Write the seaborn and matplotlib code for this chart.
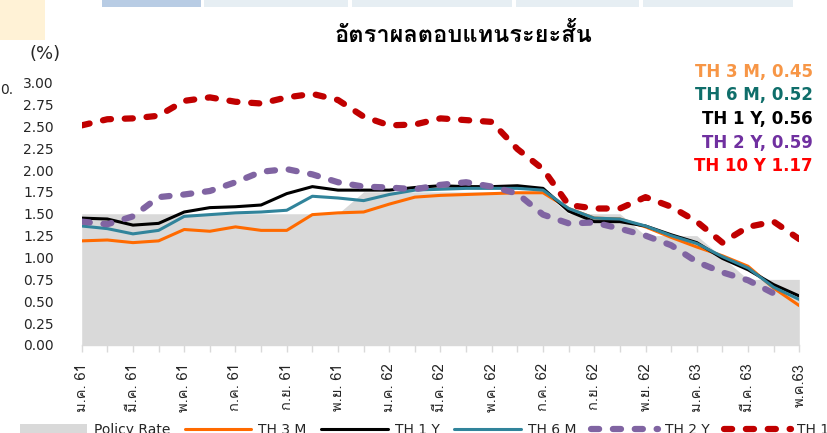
import matplotlib
matplotlib.use("Agg")
import matplotlib.pyplot as plt
import numpy as np
import pandas as pd
import seaborn as sns
from matplotlib import font_manager
from matplotlib.ft2font import FT2Font
from matplotlib.lines import Line2D
from matplotlib.patches import Patch, Rectangle

# monthly data, Jan 2018 (61) .. May 2020 (63)
months = [
    "ม.ค. 61", "ก.พ. 61", "มี.ค. 61", "เม.ย. 61", "พ.ค. 61", "มิ.ย. 61",
    "ก.ค. 61", "ส.ค. 61", "ก.ย. 61", "ต.ค. 61", "พ.ย. 61", "ธ.ค. 61",
    "ม.ค. 62", "ก.พ. 62", "มี.ค. 62", "เม.ย. 62", "พ.ค. 62", "มิ.ย. 62",
    "ก.ค. 62", "ส.ค. 62", "ก.ย. 62", "ต.ค. 62", "พ.ย. 62", "ธ.ค. 62",
    "ม.ค. 63", "ก.พ. 63", "มี.ค. 63", "เม.ย. 63", "พ.ค.63",
]
policy_rate = [1.50, 1.50, 1.50, 1.50, 1.50, 1.50, 1.50, 1.50, 1.50, 1.50, 1.50, 1.75,
               1.75, 1.75, 1.75, 1.75, 1.75, 1.75, 1.75, 1.50, 1.50, 1.50, 1.25, 1.25,
               1.25, 1.00, 0.75, 0.75, 0.75]
th_3m = [1.19, 1.20, 1.17, 1.19, 1.32, 1.30, 1.35, 1.31, 1.31, 1.49, 1.51, 1.52,
         1.61, 1.69, 1.71, 1.72, 1.73, 1.74, 1.74, 1.56, 1.45, 1.44, 1.35, 1.23,
         1.12, 1.02, 0.90, 0.65, 0.45]
th_6m = [1.36, 1.33, 1.27, 1.31, 1.47, 1.49, 1.51, 1.52, 1.54, 1.70, 1.68, 1.65,
         1.72, 1.77, 1.78, 1.79, 1.79, 1.79, 1.77, 1.56, 1.45, 1.44, 1.36, 1.25,
         1.16, 1.01, 0.88, 0.66, 0.52]
th_1y = [1.45, 1.44, 1.37, 1.39, 1.52, 1.57, 1.58, 1.60, 1.73, 1.81, 1.77, 1.77,
         1.77, 1.80, 1.82, 1.81, 1.81, 1.82, 1.79, 1.53, 1.41, 1.41, 1.36, 1.26,
         1.17, 0.99, 0.86, 0.69, 0.56]
th_2y = [1.41, 1.38, 1.47, 1.69, 1.72, 1.76, 1.86, 1.98, 2.01, 1.95, 1.86, 1.81,
         1.80, 1.78, 1.83, 1.86, 1.81, 1.73, 1.49, 1.39, 1.40, 1.33, 1.25, 1.14,
         0.95, 0.83, 0.74, 0.59, np.nan]
th_10y = [2.51, 2.58, 2.59, 2.62, 2.79, 2.83, 2.78, 2.76, 2.83, 2.87, 2.80, 2.61,
          2.51, 2.52, 2.59, 2.57, 2.55, 2.24, 2.01, 1.60, 1.56, 1.56, 1.69, 1.58,
          1.41, 1.17, 1.35, 1.41, 1.21]

latest_labels = ["TH 3 M, 0.45", "TH 6 M, 0.52", "TH 1 Y, 0.56", "TH 2 Y, 0.59", "TH 10 Y 1.17"]
latest_colors = ["#F79646", "#0F6E6A", "#000000", "#7030A0", "#FF0000"]

df = pd.DataFrame({"month": months, "policy": policy_rate, "th3m": th_3m, "th6m": th_6m,
                   "th1y": th_1y, "th2y": th_2y, "th10y": th_10y})
df["pos"] = np.arange(len(df))


def thai_font():
    # pick any installed family that has Thai glyphs
    for f in font_manager.fontManager.ttflist:
        try:
            if 0x0E01 in FT2Font(f.fname).get_charmap():
                return f.name
        except Exception:
            pass
    return "DejaVu Sans"


sns.set_style("white")
TH = thai_font()
plt.rcParams["font.family"] = ["DejaVu Sans", TH]
thai_fam = [TH, "DejaVu Sans"]

fig = plt.figure(figsize=(8.27, 4.33), dpi=100)
ax = fig.add_axes([81.7 / 827, 88 / 433, 717.6 / 827, 262.5 / 433])

dash = (0, (1.3, 2.2))
ax.fill_between(df["pos"], df["policy"], color="#D9D9D9", lw=0, zorder=1)
sns.lineplot(data=df, x="pos", y="th3m", ax=ax, color="#FF6A00", lw=2.2, zorder=3)
sns.lineplot(data=df, x="pos", y="th1y", ax=ax, color="#000000", lw=2.2, zorder=4)
sns.lineplot(data=df, x="pos", y="th6m", ax=ax, color="#31849B", lw=2.2, zorder=5)
sns.lineplot(data=df, x="pos", y="th2y", ax=ax, color="#8064A2", lw=4.5, zorder=6,
             linestyle=dash, dash_capstyle="round")
sns.lineplot(data=df, x="pos", y="th10y", ax=ax, color="#C00000", lw=4.5, zorder=7,
             linestyle=dash, dash_capstyle="round")

ax.set_xlim(0, len(df) - 1)
ax.set_ylim(0, 3.0)
yt = np.arange(0, 3.01, 0.25)
ax.set_yticks(yt)
ax.set_yticklabels([f"{v:.2f}" for v in yt], fontsize=10, color="#262626")
ax.tick_params(axis="y", length=0, pad=20)

ax.set_xticks(df["pos"][::2])
ax.set_xticks(df["pos"][1::2], minor=True)
ax.set_xticklabels(df["month"][::2], rotation=90, fontsize=10.5, family=thai_fam,
                   color="#262626", va="top", ha="center")
ax.tick_params(axis="x", which="both", length=5, width=1, color="#D9D9D9", pad=8, bottom=True)
ax.set_xlabel("")
ax.set_ylabel("")

for s in ["top", "right", "left"]:
    ax.spines[s].set_visible(False)
ax.spines["bottom"].set_color("#D9D9D9")
ax.spines["bottom"].set_linewidth(1)

fig.text(463 / 827, 1 - 35 / 433, "อัตราผลตอบแทนระยะสั้น", family=thai_fam,
         fontsize=17, fontweight="bold", ha="center", va="center", color="#000000")
fig.text(45 / 827, 1 - 54 / 433, "(%)", fontsize=13, ha="center", va="center", color="#262626")
fig.text(0, 1 - 90 / 433, "0.", fontsize=10, ha="left", va="center", color="#262626")

for k, (lab, col) in enumerate(zip(latest_labels, latest_colors)):
    fig.text(813 / 827, 1 - (71.5 + 23.7 * k) / 433, lab, fontsize=12, fontweight="bold",
             color=col, ha="right", va="center")

# bits of the surrounding slide
fig.patches.append(Rectangle((0, 1 - 40 / 433), 45 / 827, 40 / 433, transform=fig.transFigure,
                             facecolor="#FFF2D6", edgecolor="none"))
for x0, x1, c in [(102, 201, "#B8CCE4"), (204, 348, "#E6EEF3"), (352, 512, "#E6EEF3"),
                  (516, 639, "#E6EEF3"), (643, 793, "#E6EEF3")]:
    fig.patches.append(Rectangle((x0 / 827, 1 - 7 / 433), (x1 - x0) / 827, 7 / 433,
                                 transform=fig.transFigure, facecolor=c, edgecolor="none"))

handles = [
    Patch(facecolor="#D9D9D9", edgecolor="none"),
    Line2D([], [], color="#FF6A00", lw=2.2),
    Line2D([], [], color="#000000", lw=2.2),
    Line2D([], [], color="#31849B", lw=2.2),
    Line2D([], [], color="#8064A2", lw=4.5, linestyle=dash, dash_capstyle="round"),
    Line2D([], [], color="#C00000", lw=4.5, linestyle=dash, dash_capstyle="round"),
]
labels = ["Policy Rate", "TH 3 M", "TH 1 Y", "TH 6 M", "TH 2 Y", "TH 10 Y"]
fig.legend(handles, labels, loc="center left", bbox_to_anchor=(20 / 827, 3 / 433), ncol=6,
           frameon=False, handlelength=4.8, handletextpad=0.5, columnspacing=1.05,
           fontsize=10, borderaxespad=0, borderpad=0, labelcolor="#262626")

fig.savefig("out.png", dpi=100)
